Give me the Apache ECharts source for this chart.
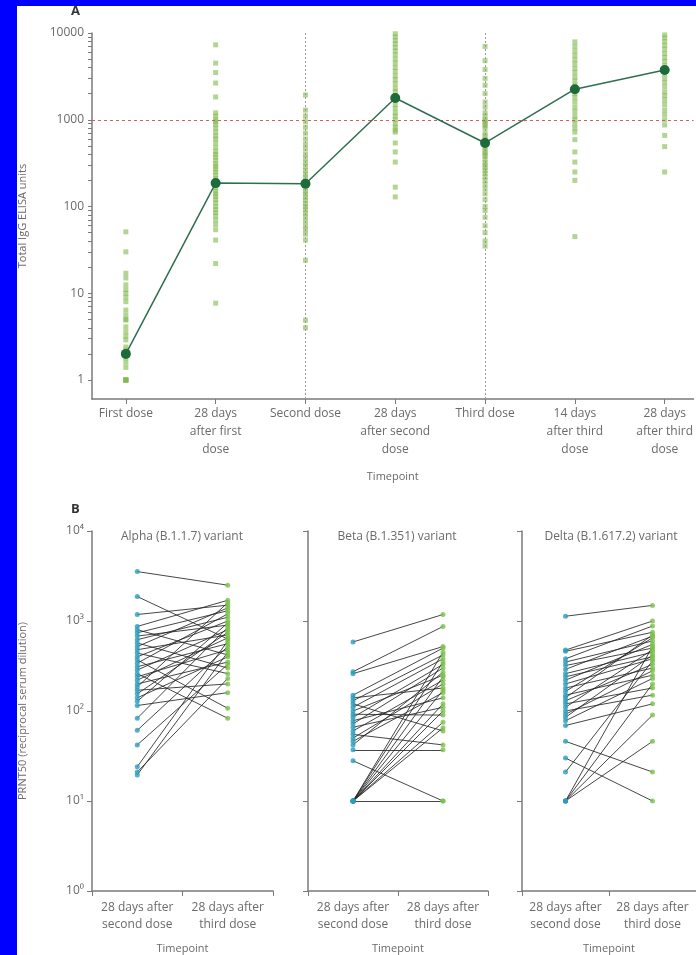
<!DOCTYPE html>
<html><head><meta charset="utf-8">
<script src="https://cdn.jsdelivr.net/npm/echarts@6/dist/echarts.min.js"></script>
<style>
html,body{margin:0;padding:0;background:#0000fe;overflow:hidden;}
#bg{position:absolute;left:17px;top:6px;width:679px;height:949px;background:#fff;}
#main{position:absolute;left:0;top:0;width:696px;height:955px;}
</style></head><body><div id="bg"></div><div id="main"></div>
<script>
// ---------- Panel A data ----------
const timepoints = ['First dose', '28 days\nafter first\ndose', 'Second dose', '28 days\nafter second\ndose', 'Third dose', '14 days\nafter third\ndose', '28 days\nafter third\ndose'];
const firstDose = [51, 30, 17, 15, 12.5, 11, 10, 9, 8, 6.4, 5.6, 5, 4.9, 4.1, 3.6, 3.2, 2.9, 2.4, 2.2, 2, 2, 1.8, 1.6, 1.4, 1, 1, 1, 1, 1];
const after28First = [7300, 4500, 3500, 2650, 1830, 1200, 1100, 1000, 950, 880, 800, 720, 650, 600, 540, 480, 430, 400, 370, 340, 310, 290, 270, 250, 230, 210, 195, 180, 165, 150, 140, 130, 120, 110, 100, 92, 85, 78, 70, 62, 54, 41, 22, 7.7];
const secondDose = [1930, 1290, 1100, 950, 820, 700, 600, 520, 460, 400, 360, 320, 290, 260, 235, 215, 195, 180, 165, 150, 140, 128, 118, 108, 100, 92, 84, 76, 68, 60, 54, 48, 41, 24, 4.9, 4];
const after28Second = [9800, 9000, 8200, 7500, 6800, 6200, 5600, 5000, 4500, 4000, 3600, 3200, 2900, 2600, 2300, 2100, 1900, 1700, 1500, 1350, 1200, 1100, 1000, 900, 820, 760, 720, 540, 425, 325, 167, 129];
const thirdDose = [7000, 4800, 3800, 3000, 2500, 2000, 1600, 1400, 1200, 1100, 1000, 950, 900, 850, 800, 700, 650, 600, 560, 520, 480, 450, 420, 400, 380, 350, 320, 300, 280, 260, 240, 220, 200, 180, 160, 140, 120, 100, 90, 75, 60, 50, 40, 35];
const after14Third = [7900, 7000, 6200, 5500, 4900, 4400, 3900, 3500, 3100, 2800, 2500, 2200, 2000, 1800, 1600, 1400, 1250, 1100, 1000, 900, 800, 720, 590, 425, 325, 250, 200, 45];
const after28Third = [9500, 8800, 8000, 7200, 6500, 5800, 5200, 4700, 4200, 3800, 3400, 3000, 2700, 2400, 2100, 1900, 1700, 1500, 1300, 1150, 1000, 870, 660, 490, 250];
const meanValues = [2, 186, 183, 1780, 540, 2250, 3740];
const thresholdA = 1000;
const doseMarkers = [2, 4];
const yTicksA = [1, 10, 100, 1000, 10000];

// ---------- Panel B data ----------
const pairCats = ['28 days after\nsecond dose', '28 days after\nthird dose'];
const variantNames = ['Alpha (B.1.1.7) variant', 'Beta (B.1.351) variant', 'Delta (B.1.617.2) variant'];
const alphaSecond = [3540, 1870, 1180, 870, 800, 740, 680, 620, 570, 520, 480, 440, 400, 370, 340, 310, 285, 260, 240, 220, 200, 185, 170, 155, 140, 128, 115, 83, 61, 42, 24, 21, 19.5];
const alphaThird  = [2500, 630, 1500, 1700, 420, 1300, 900, 1100, 300, 1400, 700, 260, 1000, 107, 1200, 560, 800, 83, 480, 650, 350, 1600, 200, 750, 400, 950, 160, 850, 520, 330, 600, 230, 450];
const betaSecond = [585, 273, 260, 150, 140, 130, 120, 110, 100, 92, 85, 78, 72, 66, 60, 55, 50, 46, 42, 37, 28, 10, 10, 10, 10, 10, 10, 10, 10, 10];
const betaThird  = [1180, 870, 520, 500, 180, 420, 60, 380, 250, 90, 330, 140, 300, 110, 220, 42, 200, 160, 270, 37, 10, 10, 450, 350, 240, 170, 120, 100, 65, 75];
const deltaSecond = [1130, 475, 460, 380, 350, 320, 290, 260, 240, 220, 200, 180, 165, 150, 140, 130, 120, 110, 100, 92, 85, 78, 69, 46, 30, 21, 10, 10, 10, 10];
const deltaThird  = [1490, 1000, 750, 880, 600, 500, 680, 450, 400, 550, 380, 300, 650, 250, 700, 330, 180, 480, 150, 280, 420, 230, 120, 21, 10, 360, 200, 90, 46, 520];
const yTicksB = [1, 10, 100, 1000, 10000];
const supDigits = ['\u2070', '\u00b9', '\u00b2', '\u00b3', '\u2074'];

// ---------- build ----------
const FONT = 'Open Sans';
const TXT = '#6a6a6a';
const AX = '#7a7a7a';
const FS = 12;
const columnsA = [firstDose, after28First, secondDose, after28Second, thirdDose, after14Third, after28Third];
const scatterA = [];
columnsA.forEach((arr, i) => arr.forEach(v => scatterA.push([i, v])));
const minorA = [];
for (let e = 0; e <= 3; e++) for (let k = 1; k <= 10; k++) minorA.push(k * Math.pow(10, e));

const grids = [
  {left: 92, top: 33, width: 604, height: 366},
  {left: 92, top: 531, width: 181, height: 363},
  {left: 308, top: 531, width: 180, height: 363},
  {left: 522, top: 531, width: 181, height: 363}
];
const xAxes = [{
  gridIndex: 0, type: 'value', min: -0.377, max: 6.322,
  axisLine: {onZero: false, lineStyle: {color: AX, width: 1.5}},
  axisTick: {show: true, customValues: [0,1,2,3,4,5,6], length: 5, lineStyle: {color: AX}},
  axisLabel: {customValues: [0,1,2,3,4,5,6], formatter: v => timepoints[Math.round(v)], color: TXT, fontFamily: FONT, fontSize: FS, lineHeight: 18, margin: 6},
  splitLine: {show: false},
  name: 'Timepoint', nameLocation: 'middle', nameGap: 72,
  nameTextStyle: {color: TXT, fontFamily: FONT, fontSize: 11}
}];
const yAxes = [{
  gridIndex: 0, type: 'log', min: 0.604, max: 10000,
  axisLine: {show: true, onZero: false, lineStyle: {color: AX, width: 1.5}},
  axisTick: {show: true, customValues: minorA, length: 4, lineStyle: {color: AX}},
  axisLabel: {customValues: yTicksA, formatter: v => String(Math.round(v)), color: TXT, fontFamily: FONT, fontSize: FS, margin: 8},
  splitLine: {show: false}, minorTick: {show: false},
  name: 'Total IgG ELISA units', nameLocation: 'middle', nameGap: 64, nameRotate: 90,
  nameTextStyle: {color: TXT, fontFamily: FONT, fontSize: 11}
}];
for (let i = 0; i < 3; i++) {
  xAxes.push({
    gridIndex: i + 1, type: 'category', data: pairCats, boundaryGap: true,
    axisLine: {onZero: false, lineStyle: {color: AX, width: 1.5}},
    axisTick: {show: true, length: 5, lineStyle: {color: AX}},
    axisLabel: {color: TXT, fontFamily: FONT, fontSize: FS, lineHeight: 17, margin: 8, interval: 0},
    name: 'Timepoint', nameLocation: 'middle', nameGap: 52,
    nameTextStyle: {color: TXT, fontFamily: FONT, fontSize: 11}
  });
  yAxes.push({
    gridIndex: i + 1, type: 'log', min: 1, max: 10000,
    axisLine: {show: true, onZero: false, lineStyle: {color: AX, width: 1.5}},
    axisTick: {show: true, length: 5, lineStyle: {color: AX}},
    axisLabel: {show: i === 0, formatter: v => '10' + supDigits[Math.round(Math.log10(v))], color: TXT, fontFamily: FONT, fontSize: FS, margin: 8},
    splitLine: {show: false}, minorTick: {show: false},
    name: i === 0 ? 'PRNT50 (reciprocal serum dilution)' : '', nameLocation: 'middle', nameGap: 64, nameRotate: 90,
    nameTextStyle: {color: TXT, fontFamily: FONT, fontSize: 11}
  });
}

const series = [
  {
    type: 'scatter', xAxisIndex: 0, yAxisIndex: 0, data: scatterA, symbol: 'rect', symbolSize: 5,
    itemStyle: {color: 'rgba(128,185,75,0.75)'}, z: 2,
    markLine: {
      silent: true, symbol: 'none', label: {show: false},
      data: [
        ...doseMarkers.map(x => ({xAxis: x, lineStyle: {color: '#9a9a9a', type: [2, 2], width: 1}})),
        {yAxis: thresholdA, lineStyle: {color: '#d0605e', type: [3, 3], width: 1.2}}
      ]
    }
  },
  {
    type: 'line', xAxisIndex: 0, yAxisIndex: 0, data: meanValues.map((v, i) => [i, v]),
    symbol: 'circle', symbolSize: 10, itemStyle: {color: '#1d6a3b'},
    lineStyle: {color: '#2f6f50', width: 1.5}, z: 5
  }
];
const pairs = [[alphaSecond, alphaThird], [betaSecond, betaThird], [deltaSecond, deltaThird]];
pairs.forEach(([s, t], i) => {
  series.push({
    type: 'lines', coordinateSystem: 'cartesian2d', xAxisIndex: i + 1, yAxisIndex: i + 1,
    data: s.map((v, k) => ({coords: [[pairCats[0], v], [pairCats[1], t[k]]]})),
    lineStyle: {color: '#262626', width: 1, opacity: 0.85}, z: 2
  });
  series.push({
    type: 'scatter', xAxisIndex: i + 1, yAxisIndex: i + 1, data: s.map(v => [pairCats[0], v]),
    symbol: 'circle', symbolSize: 5, itemStyle: {color: '#2c9cbc'}, z: 3
  });
  series.push({
    type: 'scatter', xAxisIndex: i + 1, yAxisIndex: i + 1, data: t.map(v => [pairCats[1], v]),
    symbol: 'circle', symbolSize: 5, itemStyle: {color: '#7cc04c'}, z: 3
  });
});

const titleX = [182, 397, 611];
const graphic = [
  {type: 'text', x: 71, y: 5, style: {text: 'A', font: 'bold 13px "Open Sans"', fill: '#333'}},
  {type: 'text', x: 71, y: 503, style: {text: 'B', font: 'bold 13px "Open Sans"', fill: '#333'}},
  ...variantNames.map((n, i) => ({type: 'text', x: titleX[i], y: 537, style: {text: n, font: '12px "Open Sans"', fill: TXT, align: 'center', verticalAlign: 'middle'}}))
];

const chart = echarts.init(document.getElementById('main'), null, {renderer: 'canvas'});
chart.setOption({
  animation: false, backgroundColor: 'transparent',
  grid: grids, xAxis: xAxes, yAxis: yAxes, series, graphic
});
</script></body></html>
